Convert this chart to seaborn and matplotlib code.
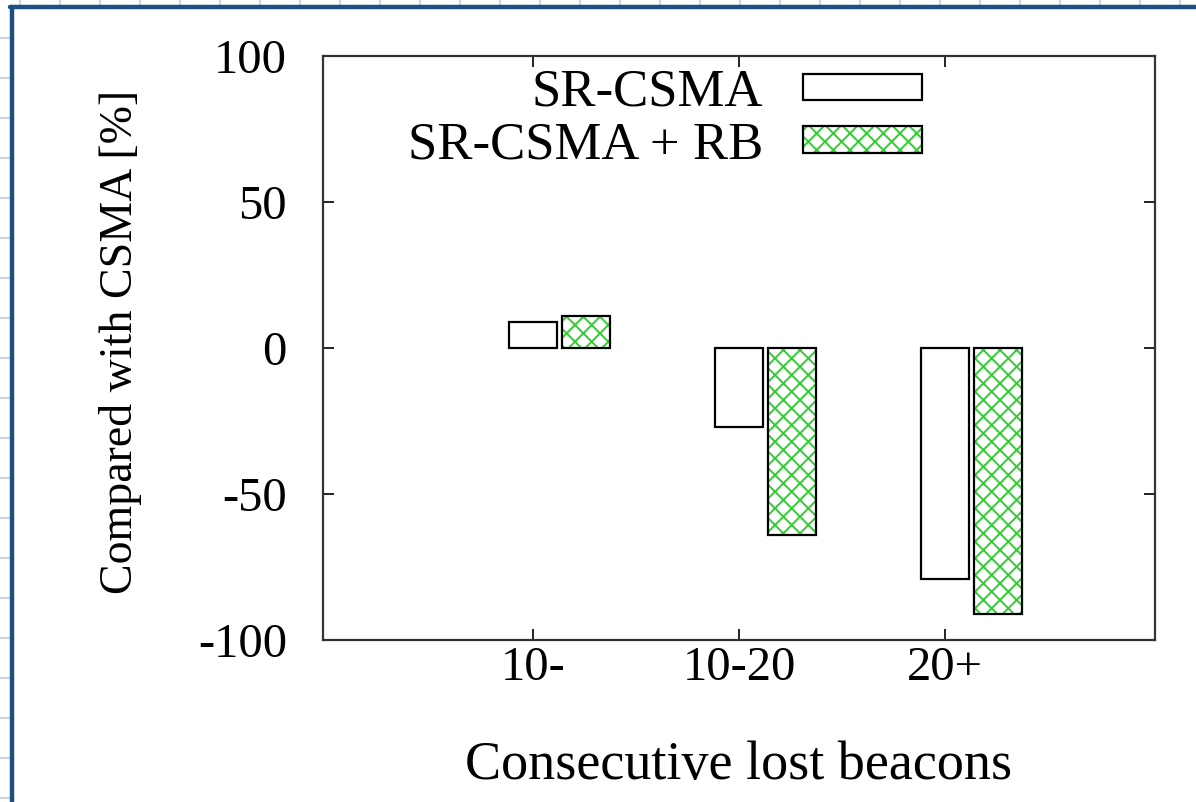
import numpy as np
import pandas as pd
import seaborn as sns
import matplotlib
matplotlib.use("Agg")
import matplotlib.pyplot as plt
import matplotlib.colors as mcolors
from matplotlib.lines import Line2D

# ---- data ----
categories = ["10-", "10-20", "20+"]
series_names = ["SR-CSMA", "SR-CSMA + RB"]
sr_csma = [9, -27, -79]
sr_csma_rb = [11, -64, -91]
y_ticks = [-100, -50, 0, 50, 100]
x_label = "Consecutive lost beacons"
y_label = "Compared with CSMA [%]"

df = pd.DataFrame({
    "cat": categories * 2,
    "val": sr_csma + sr_csma_rb,
    "series": [series_names[0]] * 3 + [series_names[1]] * 3,
})

sns.set_theme(style="white")
plt.rcParams["font.family"] = ["Liberation Serif", "DejaVu Serif"]
plt.rcParams["axes.unicode_minus"] = False
plt.rcParams["text.color"] = "black"
plt.rcParams["axes.labelcolor"] = "black"
plt.rcParams["xtick.color"] = "black"
plt.rcParams["ytick.color"] = "black"
plt.rcParams["hatch.linewidth"] = 1.4
FS = 35

W, H, DPI = 11.96, 8.02, 100
fig = plt.figure(figsize=(W, H), dpi=DPI)
ax = fig.add_axes([323 / 1196, 1 - 640 / 802, (1155 - 323) / 1196, (640 - 56) / 802])

bar_width = 0.514
sns.barplot(data=df, x="cat", y="val", hue="series", order=categories,
            hue_order=series_names, palette=["white", "white"],
            width=bar_width, gap=0.093, edgecolor="black", linewidth=1.6,
            saturation=1, ax=ax, legend=True)

green = mcolors.to_rgba("#33cc33")
for p in ax.containers[1]:
    p.set_hatch("xx")
    p._hatch_color = green

off = bar_width / 4
ax.set_xticks([i - off for i in range(len(categories))])
ax.set_xticklabels(categories)
ax.set_xlim(-1.019 - off, 3.019 - off)
ax.set_ylim(-100, 100)
ax.set_yticks(y_ticks)

for s in ax.spines.values():
    s.set_visible(True)
    s.set_color("#333333")
    s.set_linewidth(1.6)

ax.tick_params(axis="both", which="major", direction="in", length=8, width=1.4,
               color="#222222", labelsize=FS, labelcolor="black", top=True,
               right=True, bottom=True, left=True)
ax.tick_params(axis="y", pad=26)
ax.tick_params(axis="x", pad=4)

ax.set_xlabel(x_label, fontsize=39)
ax.set_ylabel(y_label, fontsize=33)
ax.xaxis.set_label_coords(0.5, -0.172)
ax.yaxis.set_label_coords(-0.2175, 0.51)

# legend
LFS = 38
handles, labels = ax.get_legend_handles_labels()
leg = ax.legend(handles, labels, loc="upper right", bbox_to_anchor=(0.72, 0.978),
                frameon=False, fontsize=LFS, markerfirst=False,
                handlelength=2.25, handleheight=0.40, handletextpad=0.76,
                labelspacing=0.08, borderpad=0, borderaxespad=0)
for h in leg.legend_handles:
    h.set_edgecolor("black")
    h.set_linewidth(1.6)
leg.legend_handles[1].set_hatch("xx")
leg.legend_handles[1]._hatch_color = green
for t in leg.get_texts():
    t.set_ha("right")

# screenshot frame decoration
blue = "#1f4e80"
faint = "#c8d4e4"
for yy in range(38, 802, 40):
    fig.add_artist(Line2D([0, 10 / 1196], [1 - yy / 802] * 2, color=faint, lw=1.5))
for xx in range(20, 1196, 40):
    fig.add_artist(Line2D([xx / 1196] * 2, [1, 1 - 5 / 802], color=faint, lw=1.5))
fig.add_artist(Line2D([12 / 1196] * 2, [0, 1 - 6.5 / 802], color=blue, lw=3.2))
fig.add_artist(Line2D([10 / 1196, 1], [1 - 6.5 / 802] * 2, color=blue, lw=3.2))

fig.savefig("out.png", dpi=DPI)
